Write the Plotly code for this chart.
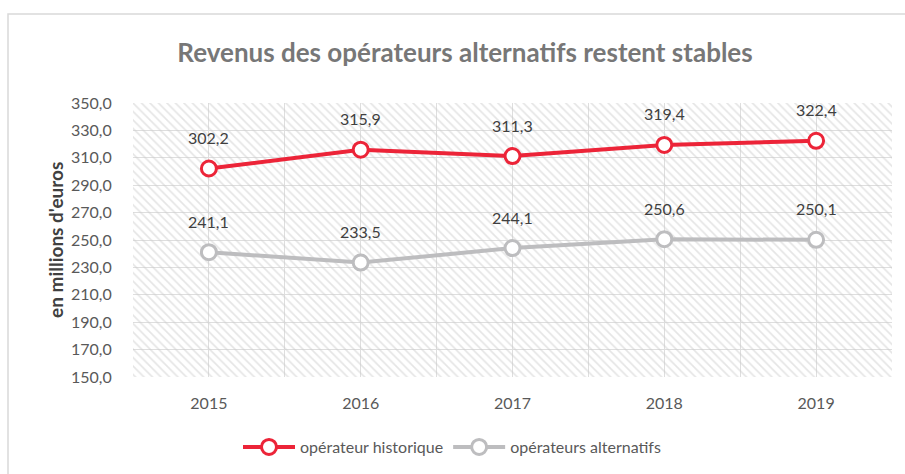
import plotly.graph_objects as go

years = [2015, 2016, 2017, 2018, 2019]
historique = [302.2, 315.9, 311.3, 319.4, 322.4]
alternatifs = [241.1, 233.5, 244.1, 250.6, 250.1]
series_names = ["opérateur historique", "opérateurs alternatifs"]
title_text = "Revenus des opérateurs alternatifs restent stables"
y_title = "en millions d'euros"

RED = "#EC2438"
GRAY = "#BDBDBF"
FONT = "Lato"

x_range = [years[0] - 0.5, years[-1] + 0.5]
y_range = [150, 350]

fig = go.Figure()

# hatched plot background
fig.add_trace(go.Scatter(
    x=[x_range[0], x_range[1], x_range[1], x_range[0], x_range[0]],
    y=[y_range[0], y_range[0], y_range[1], y_range[1], y_range[0]],
    mode="none", fill="toself", fillcolor="rgba(0,0,0,0)",
    fillpattern=dict(shape="\\", fgcolor="#CBCBCB", bgcolor="rgba(0,0,0,0)",
                     size=6, solidity=0.27),
    showlegend=False, hoverinfo="skip",
))

for name, vals, col in [(series_names[0], historique, RED), (series_names[1], alternatifs, GRAY)]:
    fig.add_trace(go.Scatter(
        x=years, y=vals, name=name, mode="lines+markers",
        line=dict(color=col, width=4),
        marker=dict(size=15, color="white", line=dict(color=col, width=3)),
        cliponaxis=False,
    ))

W, H = 905, 474
ml, mr, mt, mb = 133, 13, 103, 97
pw, ph = W - ml - mr, H - mt - mb

def px_x(p):
    return (p - ml) / pw

def px_y(p):
    return (H - mb - p) / ph

annotations = []
for vals in (historique, alternatifs):
    for x, v in zip(years, vals):
        annotations.append(dict(
            x=x, y=v, xref="x", yref="y", text=f"{v:.1f}".replace(".", ","),
            showarrow=False, yshift=31, font=dict(family=FONT, size=16, color="#404040"),
        ))
annotations.append(dict(
    x=px_x(55), y=0.5, xref="paper", yref="paper", text=f"<b>{y_title}</b>",
    textangle=-90, showarrow=False, xanchor="center", yanchor="middle",
    font=dict(family=FONT, size=19, color="#404040"),
))

fig.update_layout(
    width=W, height=H,
    margin=dict(l=ml, r=mr, t=mt, b=mb, autoexpand=False),
    paper_bgcolor="white", plot_bgcolor="white",
    separators=", ",
    font=dict(family=FONT, color="#595959", size=16),
    title=dict(text=f"<b>{title_text}</b>", x=465 / W, xref="container", xanchor="center",
               y=1 - 53 / H, yanchor="middle",
               font=dict(family=FONT, size=26, color="#777777")),
    showlegend=True,
    legend=dict(orientation="h", x=px_x(452), xanchor="center", y=px_y(447), yanchor="middle",
                font=dict(family=FONT, size=16, color="#595959"), itemwidth=52,
                traceorder="normal"),
    annotations=annotations,
    shapes=[dict(type="rect", xref="paper", yref="paper",
                 x0=px_x(8), x1=px_x(912), y0=px_y(490), y1=px_y(14),
                 line=dict(color="#D9D9D9", width=1.5), fillcolor="rgba(0,0,0,0)",
                 layer="below")],
)

fig.update_xaxes(
    range=x_range, tickmode="array", tickvals=years, ticktext=[str(y) for y in years],
    showgrid=True, gridcolor="#DEDEDE", gridwidth=1,
    minor=dict(tickmode="linear", tick0=x_range[0], dtick=0.5, showgrid=True,
               gridcolor="#DEDEDE", gridwidth=1),
    zeroline=False, showline=False,
    ticks="outside", ticklen=12, tickcolor="rgba(0,0,0,0)",
    tickfont=dict(family=FONT, size=16, color="#595959"),
)
fig.update_yaxes(
    range=y_range, tickmode="linear", tick0=150, dtick=20, tickformat=".1f",
    showgrid=True, gridcolor="#DEDEDE", gridwidth=1,
    zeroline=False, showline=False,
    ticks="outside", ticklen=17, tickcolor="rgba(0,0,0,0)",
    tickfont=dict(family=FONT, size=16, color="#595959"),
)

fig.write_html("out.html", config={"displayModeBar": False},
               post_script="document.body.style.margin='0px';")
